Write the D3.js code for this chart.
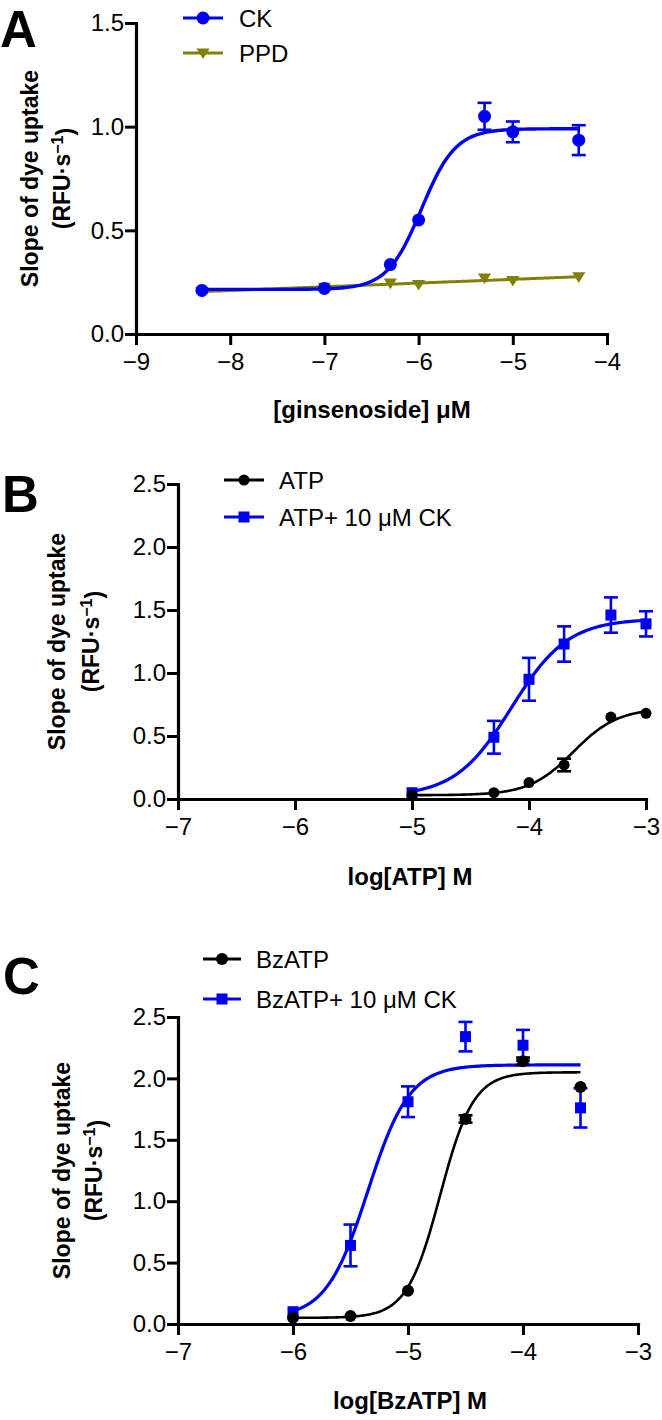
<!DOCTYPE html>
<html>
<head>
<meta charset="utf-8">
<script src="https://cdn.jsdelivr.net/npm/d3@7/dist/d3.min.js"></script>
<style>
  html, body { margin: 0; padding: 0; background: #fff; }
  svg { display: block; }
  text { font-family: "Liberation Sans", Arial, Helvetica, sans-serif; fill: #000; }
</style>
</head>
<body>
<svg id="chart" width="662" height="1420"></svg>
<script>
// ---------------- DATA ----------------
// Panel A : [ginsenoside] (log M)
const aX = [-8.3, -7, -6.3, -6, -5.3, -5, -4.3];
const aCK = [0.21, 0.22, 0.335, 0.55, 1.05, 0.975, 0.935];
const aCKerr = [0.01, 0.01, 0.01, 0.01, 0.065, 0.05, 0.072];
const aPPD = [0.205, 0.225, 0.245, 0.238, 0.27, 0.258, 0.275];
const aPPDerr = [0, 0, 0.01, 0.01, 0.01, 0.01, 0.01];
const aFitCK = [0.215, 0.99, -5.97, 2.4];      // bottom, top, logEC50, hill
const aXTicks = [-9, -8, -7, -6, -5, -4];
const aYTicks = [0, 0.5, 1.0, 1.5];
const aLegend = ["CK", "PPD"];

// Panel B : log[ATP] M
const bX = [-5, -4.3, -4, -3.7, -3.3, -3];
const bATP = [0.03, 0.05, 0.13, 0.27, 0.65, 0.68];
const bATPerr = [0.01, 0.01, 0.02, 0.05, 0.02, 0.02];
const bATPCK = [0.05, 0.49, 0.95, 1.23, 1.46, 1.39];
const bATPCKerr = [0.02, 0.13, 0.17, 0.14, 0.14, 0.10];
const bFitATP = [0.03, 0.72, -3.62, 2.3];
const bFitATPCK = [0.02, 1.43, -4.15, 1.8];
const bXTicks = [-7, -6, -5, -4, -3];
const bYTicks = [0, 0.5, 1.0, 1.5, 2.0, 2.5];
const bLegend = ["ATP", "ATP+ 10 μM CK"];

// Panel C : log[BzATP] M
const cX = [-6, -5.5, -5, -4.5, -4, -3.5];
const cBz = [0.05, 0.065, 0.27, 1.67, 2.14, 1.93];
const cBzErr = [0.01, 0.01, 0.02, 0.03, 0.03, 0.02];
const cBzCK = [0.1, 0.64, 1.81, 2.34, 2.27, 1.76];
const cBzCKerr = [0.02, 0.17, 0.125, 0.12, 0.125, 0.16];
const cFitBz = [0.05, 2.05, -4.72, 3.0];
const cFitBzCK = [0.05, 2.11, -5.35, 2.4];
const cXTicks = [-7, -6, -5, -4, -3];
const cYTicks = [0, 0.5, 1.0, 1.5, 2.0, 2.5];
const cLegend = ["BzATP", "BzATP+ 10 μM CK"];

// ---------------- STYLE ----------------
const BLUE = "#0000f0";
const OLIVE = "#80800a";
const BLACK = "#000000";
const FONT_TICK = 24, FONT_XTITLE = 24, FONT_YTITLE = 23, FONT_LEG = 24, FONT_LETTER = 51;

const svg = d3.select("#chart");
svg.append("rect").attr("width", 662).attr("height", 1420).attr("fill", "#fff");

function logistic(p) {
  const [b, t, ec, h] = p;
  return x => b + (t - b) / (1 + Math.pow(10, h * (ec - x)));
}
function linearFit(xs, ys) {
  const n = xs.length, mx = d3.mean(xs), my = d3.mean(ys);
  let sxy = 0, sxx = 0;
  for (let i = 0; i < n; i++) { sxy += (xs[i] - mx) * (ys[i] - my); sxx += (xs[i] - mx) ** 2; }
  const s = sxy / sxx;
  return x => my + s * (x - mx);
}

function marker(g, shape, color, cx, cy, size) {
  if (shape === "circle") {
    g.append("circle").attr("cx", cx).attr("cy", cy).attr("r", size).attr("fill", color);
  } else if (shape === "square") {
    g.append("rect").attr("x", cx - size).attr("y", cy - size)
      .attr("width", 2 * size).attr("height", 2 * size).attr("fill", color);
  } else if (shape === "tri") {
    const s = size * 1.1;
    g.append("path").attr("d", `M${cx - s},${cy - s * 0.7}L${cx + s},${cy - s * 0.7}L${cx},${cy + s * 0.9}Z`)
      .attr("fill", color);
  }
}

function panel(cfg) {
  const g = svg.append("g");
  const x = d3.scaleLinear().domain(cfg.xDomain).range(cfg.xRange);
  const y = d3.scaleLinear().domain(cfg.yDomain).range(cfg.yRange);

  // axes
  const xAxis = d3.axisBottom(x).tickValues(cfg.xTicks).tickSize(11).tickSizeOuter(0).tickPadding(8)
    .tickFormat(d3.format("d"));
  const yAxis = d3.axisLeft(y).tickValues(cfg.yTicks).tickSize(11).tickSizeOuter(0).tickPadding(1)
    .tickFormat(d3.format(".1f"));
  const gx = g.append("g").attr("transform", `translate(0,${cfg.yRange[0]})`).call(xAxis);
  const gy = g.append("g").attr("transform", `translate(${cfg.xRange[0]},0)`).call(yAxis);
  [gx, gy].forEach(ax => {
    ax.select(".domain").attr("stroke", "#000").attr("stroke-width", 3.2).attr("stroke-linecap", "square");
    ax.selectAll(".tick line").attr("stroke", "#000").attr("stroke-width", 3);
    ax.selectAll(".tick text").attr("font-size", FONT_TICK)
      .attr("font-family", '"Liberation Sans", Arial, sans-serif').attr("fill", "#1e1e1e");
  });

  // series
  cfg.series.forEach(s => {
    const sg = g.append("g");
    const f = s.fit;
    const lo = d3.min(s.x), hi = d3.max(s.x);
    const pts = d3.range(0, 201).map(i => lo + (hi - lo) * i / 200);
    sg.append("path")
      .attr("d", d3.line().x(d => x(d)).y(d => y(f(d)))(pts))
      .attr("fill", "none").attr("stroke", s.color).attr("stroke-width", s.lw);
    s.x.forEach((xv, i) => {
      const e = s.err[i];
      if (e > 0.02) {
        const cx = x(xv), y1 = y(s.y[i] + e), y2 = y(s.y[i] - e);
        sg.append("line").attr("x1", cx).attr("x2", cx).attr("y1", y1).attr("y2", y2)
          .attr("stroke", s.color).attr("stroke-width", 2.6);
        [y1, y2].forEach(yy => sg.append("line").attr("x1", cx - 7).attr("x2", cx + 7)
          .attr("y1", yy).attr("y2", yy).attr("stroke", s.color).attr("stroke-width", 2.6));
      }
      marker(sg, s.shape, s.color, x(xv), y(s.y[i]), s.ms);
    });
  });

  // legend
  cfg.series.forEach(s => {
    const ly = cfg.legY[s.legIdx];
    const lg = g.append("g");
    lg.append("line").attr("x1", cfg.legX[0]).attr("x2", cfg.legX[1]).attr("y1", ly).attr("y2", ly)
      .attr("stroke", s.color).attr("stroke-width", 3);
    marker(lg, s.shape, s.color, (cfg.legX[0] + cfg.legX[1]) / 2, ly, s.ms);
    lg.append("text").attr("x", cfg.legX[2]).attr("y", ly).attr("dy", "0.36em")
      .attr("font-size", FONT_LEG).attr("fill", "#1e1e1e").text(cfg.legend[s.legIdx]);
  });

  // titles
  const cy = (cfg.yRange[0] + cfg.yRange[1]) / 2;
  g.append("text").attr("transform", `translate(${cfg.yTitleX[0]},${cy}) rotate(-90)`)
    .attr("text-anchor", "middle").attr("dy", "0.35em")
    .attr("font-size", FONT_YTITLE).attr("font-weight", "bold").text("Slope of dye uptake");
  const t2 = g.append("text").attr("transform", `translate(${cfg.yTitleX[1]},${cy}) rotate(-90)`)
    .attr("text-anchor", "middle").attr("dy", "0.35em")
    .attr("font-size", FONT_YTITLE).attr("font-weight", "bold");
  t2.append("tspan").text("(RFU·s");
  t2.append("tspan").attr("dy", "-0.45em").attr("font-size", FONT_YTITLE * 0.7).text("−1");
  t2.append("tspan").attr("dy", "0.45em").text(")");

  g.append("text").attr("x", cfg.xTitle[0]).attr("y", cfg.xTitle[1]).attr("dy", "0.35em")
    .attr("text-anchor", "middle").attr("font-size", FONT_XTITLE).attr("font-weight", "bold")
    .text(cfg.xTitleText);

  g.append("text").attr("x", cfg.letter[1]).attr("y", cfg.letter[2])
    .attr("font-size", FONT_LETTER).attr("font-weight", "bold").text(cfg.letter[0]);
}

// Panel A
panel({
  xDomain: [-9, -4], xRange: [136, 607], yDomain: [0, 1.5], yRange: [334, 23],
  xTicks: aXTicks, yTicks: aYTicks, legend: aLegend,
  legX: [183, 223, 239], legY: [18, 53],
  yTitleX: [30, 62], xTitle: [372, 410], xTitleText: "[ginsenoside] μM",
  letter: ["A", 0, 47],
  series: [
    { x: aX, y: aPPD, err: aPPDerr, fit: linearFit(aX, aPPD), color: OLIVE, shape: "tri", ms: 6, lw: 3, legIdx: 1 },
    { x: aX, y: aCK, err: aCKerr, fit: logistic(aFitCK), color: BLUE, shape: "circle", ms: 6.5, lw: 3.4, legIdx: 0 }
  ]
});

// Panel B
panel({
  xDomain: [-7, -3], xRange: [178, 646], yDomain: [0, 2.5], yRange: [799, 484],
  xTicks: bXTicks, yTicks: bYTicks, legend: bLegend,
  legX: [224, 264, 279], legY: [480, 517],
  yTitleX: [57, 91], xTitle: [410, 877], xTitleText: "log[ATP] M",
  letter: ["B", 2, 512],
  series: [
    { x: bX, y: bATPCK, err: bATPCKerr, fit: logistic(bFitATPCK), color: BLUE, shape: "square", ms: 5.5, lw: 3.2, legIdx: 1 },
    { x: bX, y: bATP, err: bATPerr, fit: logistic(bFitATP), color: BLACK, shape: "circle", ms: 5.5, lw: 2.6, legIdx: 0 }
  ]
});

// Panel C
panel({
  xDomain: [-7, -3], xRange: [178, 638], yDomain: [0, 2.5], yRange: [1324, 1017],
  xTicks: cXTicks, yTicks: cYTicks, legend: cLegend,
  legX: [203, 241, 256], legY: [959, 999],
  yTitleX: [62, 94], xTitle: [410, 1401], xTitleText: "log[BzATP] M",
  letter: ["C", 3, 994],
  series: [
    { x: cX, y: cBzCK, err: cBzCKerr, fit: logistic(cFitBzCK), color: BLUE, shape: "square", ms: 5.5, lw: 3.2, legIdx: 1 },
    { x: cX, y: cBz, err: cBzErr, fit: logistic(cFitBz), color: BLACK, shape: "circle", ms: 6, lw: 2.6, legIdx: 0 }
  ]
});
</script>
</body>
</html>
